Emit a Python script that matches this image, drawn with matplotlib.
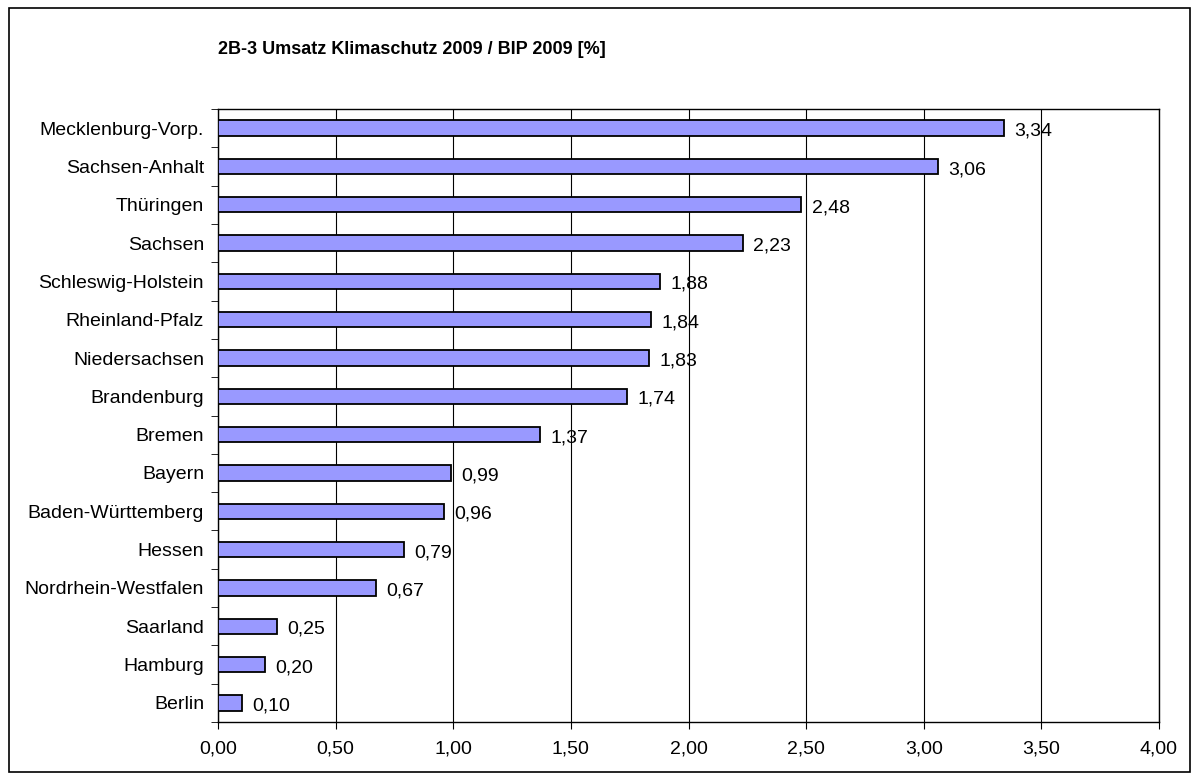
import matplotlib
matplotlib.use('Agg')
import matplotlib.pyplot as plt
import matplotlib.patches as mpatches
import numpy as np

plt.rcParams['font.family'] = ['Liberation Sans', 'DejaVu Sans']

laender = ['Mecklenburg-Vorp.', 'Sachsen-Anhalt', 'Thüringen', 'Sachsen',
           'Schleswig-Holstein', 'Rheinland-Pfalz', 'Niedersachsen', 'Brandenburg',
           'Bremen', 'Bayern', 'Baden-Württemberg', 'Hessen',
           'Nordrhein-Westfalen', 'Saarland', 'Hamburg', 'Berlin']
werte = [3.34, 3.06, 2.48, 2.23, 1.88, 1.84, 1.83, 1.74,
         1.37, 0.99, 0.96, 0.79, 0.67, 0.25, 0.20, 0.10]
x_ticks = [0.0, 0.5, 1.0, 1.5, 2.0, 2.5, 3.0, 3.5, 4.0]

def de(v):
    return f'{v:.2f}'.replace('.', ',')

FS = 14

fig = plt.figure(figsize=(12, 7.8), dpi=100)
ax = fig.add_axes([218/1200, 1 - 722/780, (1159 - 218)/1200, (722 - 109)/780])

# Rahmen um das ganze Diagramm
fig.patches.append(mpatches.Rectangle((9/1200, 8/780), (1190 - 9)/1200, (772 - 8)/780,
                                      transform=fig.transFigure, fill=False,
                                      edgecolor='black', linewidth=1.2))

n = len(laender)
y = np.arange(n)[::-1]
ax.barh(y, werte, height=0.4, color='#9999FF', edgecolor='black', linewidth=1.3, zorder=3)

for yi, v in zip(y, werte):
    ax.text(v + 0.045, yi - 0.08, de(v), va='center', ha='left', fontsize=FS, zorder=4)

ax.set_xlim(0, 4)
ax.set_ylim(-0.5, n - 0.5)
ax.set_xticks(x_ticks)
ax.set_xticklabels([de(t) for t in x_ticks], fontsize=FS)
ax.set_yticks(y)
ax.set_yticklabels(laender, fontsize=FS)
ax.tick_params(axis='y', length=0, pad=10)
ax.set_yticks(np.arange(-0.5, n, 1.0), minor=True)
ax.tick_params(axis='y', which='minor', length=5, direction='out')
ax.tick_params(axis='x', length=5, direction='out', pad=8)

ax.xaxis.grid(True, color='black', linewidth=0.8, zorder=0)
ax.set_axisbelow(True)
for s in ax.spines.values():
    s.set_linewidth(1.0)

fig.text(218/1200, 1 - 50/780, '2B-3 Umsatz Klimaschutz 2009 / BIP 2009 [%]',
         fontsize=13, fontweight='bold', va='center', ha='left')

plt.savefig('out.png', dpi=100)
plt.close()
